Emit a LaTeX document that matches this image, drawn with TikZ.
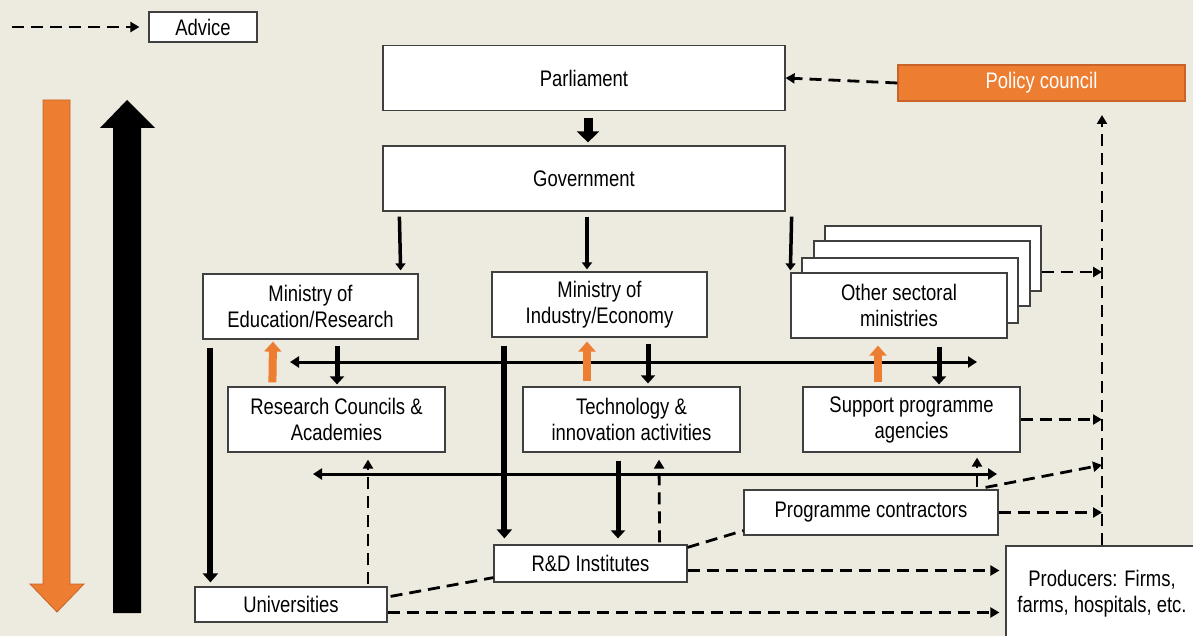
\documentclass[tikz,border=0pt]{standalone}
\usepackage{fontspec}
\setmainfont{Liberation Sans}[FakeStretch=0.82]
\usetikzlibrary{arrows.meta,calc}
\definecolor{bg}{HTML}{EDEAE0}
\definecolor{orng}{HTML}{ED7D31}
\definecolor{orngdk}{HTML}{C8642A}
\begin{document}
\begin{tikzpicture}[x=1pt,y=-1pt,
  box/.style={draw=black!75,line width=1.2pt,fill=white,inner sep=0pt,align=center,
    font=\fontsize{22.5}{26}\selectfont},
  dsh/.style={line width=2.8pt,dash pattern=on 12pt off 7pt,-{Triangle[width=10pt,length=9pt]}},
  dline/.style={line width=2.8pt,dash pattern=on 12pt off 7pt},
  thinarr/.style={line width=3.5pt,-{Triangle[width=10pt,length=7pt]}},
  thickarr/.style={line width=5pt,-{Triangle[width=14pt,length=8pt]}},
  vthick/.style={line width=6pt,-{Triangle[width=15pt,length=9pt]}},
  harr/.style={line width=3pt,{Triangle[width=11pt,length=9pt]}-{Triangle[width=11pt,length=9pt]}},
  oarr/.style={orng,line width=8pt,-{Triangle[width=17pt,length=10pt]}},
  blk/.style={line width=9pt,-{Triangle[width=22pt,length=11pt]}}]
\useasboundingbox (0,0) rectangle (1193,636);
\fill[bg] (0,0) rectangle (1193,636);
\clip (0,0) rectangle (1193,636);

% legend
\node[box,minimum width=108pt,minimum height=30pt] (adv) at (203,27) {Advice};
\coordinate (advs) at (12,27);
\draw[dsh,shorten >=9pt] (advs) -- (adv.west);

% big side arrows
\fill[orng,draw=orngdk,line width=0.8pt] (43,100) -- (70,100) -- (70,584) -- (84,584) -- (57,612) -- (30,584) -- (43,584) -- cycle;
\fill[black] (127,100) -- (155,128) -- (141,128) -- (141,613) -- (113,613) -- (113,128) -- (100,128) -- cycle;

% nodes
\node[box,minimum width=402pt,minimum height=65pt] (parl) at (584,78) {Parliament};
\node[box,minimum width=402pt,minimum height=65pt] (gov) at (584,178.5) {Government};
\node[box,fill=orng,draw=orngdk,text=white,minimum width=287pt,minimum height=36pt] (pc) at (1041.5,83) {Policy council};
\node[box,minimum width=215pt,minimum height=65pt] (minedu) at (310.5,306.5) {Ministry of\\Education/Research};
\node[box,minimum width=215pt,minimum height=65pt] (minind) at (599.5,304.5) {Ministry of\\Industry/Economy};
\node[box,minimum width=216pt,minimum height=65pt] (other4) at (933,258.5) {};
\node[box,minimum width=216pt,minimum height=65pt] (other3) at (922,273.5) {};
\node[box,minimum width=216pt,minimum height=65pt] (other2) at (910,290.5) {};
\node[box,minimum width=216pt,minimum height=65pt] (other) at (899,305.5) {Other sectoral\\ministries};
\node[box,minimum width=217pt,minimum height=65pt] (rc) at (336.5,419.5) {Research Councils \&\\Academies};
\node[box,minimum width=217pt,minimum height=65pt] (tech) at (631.5,419.5) {Technology \&\\innovation activities};
\node[box,minimum width=217pt,minimum height=65pt] (spa) at (911.5,419.5) {Support programme\\agencies};
\node[box,minimum width=254pt,minimum height=45pt] (prog) at (871,512.5) {Programme contractors};
\node[box,minimum width=193pt,minimum height=37pt] (rdi) at (590.5,563.5) {R\&D Institutes};
\node[box,minimum width=192pt,minimum height=35pt] (univ) at (291,604.5) {Universities};
\node[box,minimum width=192pt,minimum height=96pt] (prod) at (1102,594) {Producers: Firms,\\farms, hospitals, etc.};

% top connectors
\draw[blk] ($(parl.south)+(4,7)$) -- ($(gov.north)+(4,-3)$);
\draw[dsh] (pc.west) -- (parl.east);
\draw[thinarr] ($(gov.south west)+(17,5)$) -- ($(minedu.north east)+(-18,-3)$);
\draw[thinarr] ($(gov.south)+(3,5)$) -- ($(minind.north)+(-12.5,-2)$);
\draw[thinarr] ($(gov.south east)+(6,5)$) -- ($(other.north west)+(0,-2)$);

% vertical advice line
\coordinate (vtop) at (1102,115);
\draw[dsh] (prod.north) -- (vtop);
\coordinate (o4) at ($(other4.east)+(0,13.5)$);
\draw[dsh] (o4) -- (o4 -| vtop);

% horizontal double arrows
\coordinate (h1l) at (290,362);
\coordinate (h1r) at (977,362);
\draw[harr] (h1l) -- (h1r);
\coordinate (h2l) at (313,474);
\coordinate (h2r) at (997,474);
\draw[harr] (h2l) -- (h2r);

% orange up arrows
\draw[oarr] ($(rc.north west)+(45,-4)$) -- ($(minedu.south)+(-37.5,2)$);
\draw[oarr] ($(tech.north)+(-44.5,-5)$) -- ($(minind.south)+(-12.5,4)$);
\draw[oarr] ($(spa.north)+(-33.5,-4)$) -- ($(other.south)+(-21,7)$);

% black down arrows
\draw[thickarr] ($(minedu.south)+(26.5,6)$) -- ($(rc.north)+(0.5,-2)$);
\draw[thickarr] ($(minind.south)+(48.5,6)$) -- ($(tech.north)+(16.5,-3)$);
\draw[thickarr] ($(other.south)+(40,8)$) -- ($(spa.north)+(27.5,-2)$);

% long verticals
\draw[vthick] ($(minedu.south west)+(8,8)$) -- ($(univ.north west)+(16,-4)$);
\draw[vthick] ($(minind.south west)+(13,8)$) -- ($(rdi.north west)+(11,-6)$);
\draw[thickarr] ($(tech.south)+(-13.5,8)$) -- ($(rdi.north)+(27.5,-6)$);

% dashed advice connectors
\draw[dsh] ($(rdi.north east)+(-28,-2)$) -- ($(tech.south)+(27.5,7)$);
\draw[dsh] ($(univ.north)+(77,-2)$) -- ($(rc.south)+(31.5,7)$);
\draw[dsh] ($(prog.north)+(106,-2)$) -- ($(spa.south)+(65.5,5)$);
\draw[dsh] (spa.east) -- (spa.east -| vtop);
\coordinate (p1) at ($(prog.north east)+(-13,-2)$);
\draw[dsh] (p1) -- ($(vtop)+(0,350)$);
\draw[dsh] (prog.east) -- (prog.east -| vtop);
\draw[dline] ($(univ.north east)+(3,10)$) -- ($(rdi.south west)+(0,-5)$);
\draw[dline] ($(rdi.north east)+(0,3)$) -- ($(prog.south west)+(0,-5)$);
\coordinate (r1) at ($(rdi.east)+(0,7)$);
\draw[dsh,shorten >=6pt] (r1) -- (r1 -| prod.west);
\coordinate (u1) at ($(univ.east)+(0,8)$);
\draw[dsh,shorten >=6pt] (u1) -- (u1 -| prod.west);
\end{tikzpicture}
\end{document}
